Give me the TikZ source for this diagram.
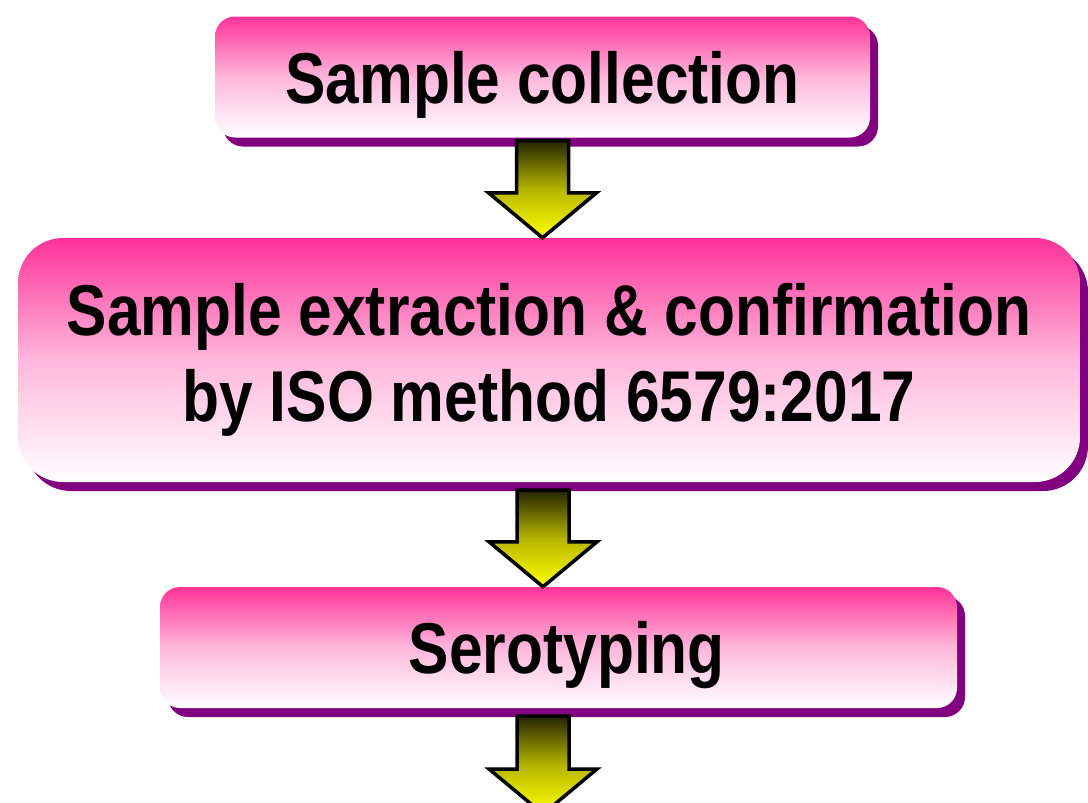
\documentclass[tikz,border=0pt]{standalone}
\usepackage{fontspec}
\usetikzlibrary{calc,shadows}
\newfontfamily\flowfont{Liberation Sans}[FakeStretch=0.84]
\definecolor{pk}{HTML}{FF3399}
\definecolor{shd}{HTML}{800080}
\definecolor{olv}{HTML}{242400}
\definecolor{olvmid}{HTML}{B5B500}
\definecolor{yel}{HTML}{FFFF00}
\tikzset{
  stepbox/.style={rounded corners=20pt,top color=pk,bottom color=white,middle color=pk!35,align=center,inner sep=0pt,
    drop shadow={shadow xshift=8pt,shadow yshift=-9pt,fill=shd,opacity=1},
    font=\flowfont\bfseries\fontsize{72}{86}\selectfont},
  flowarr/.style={draw=black,line width=3.5pt,line join=miter,top color=olv,bottom color=yel,middle color=olvmid},
}
% block arrow from the top point #1 down to the tip #2
\newcommand{\flowarrow}[2]{%
  \path[flowarr] let \p1=(#1), \p2=(#2) in
    (\x2,\y2) -- (\x2-54pt,\y2+45pt) -- (\x2-26pt,\y2+45pt) -- (\x2-26pt,\y1)
    -- (\x2+26pt,\y1) -- (\x2+26pt,\y2+45pt) -- (\x2+54pt,\y2+45pt) -- cycle;}
\begin{document}
\begin{tikzpicture}[x=1pt,y=-1pt]
\useasboundingbox (0,0) rectangle (1088,803);
\node[stepbox,text depth=0pt,minimum width=655pt,minimum height=121pt] (coll) at (542.5,77) {Sample collection};
\node[stepbox,rounded corners=45pt,minimum width=1062pt,minimum height=244pt] (extr) at (549,360)
  {Sample extraction \& confirmation\\by ISO method 6579:2017};
\node[stepbox,text depth=0pt,minimum width=797pt,minimum height=121pt] (sero) at (558.5,647.5) {\ Serotyping};
\coordinate (next) at (543,814);
\flowarrow{$(coll.south)+(0,3)$}{extr.north -| coll.south}
\flowarrow{$(extr.south)+(0,8)$}{sero.north -| next}
\flowarrow{$(sero.south)+(0,8)$}{next}
\end{tikzpicture}
\end{document}
